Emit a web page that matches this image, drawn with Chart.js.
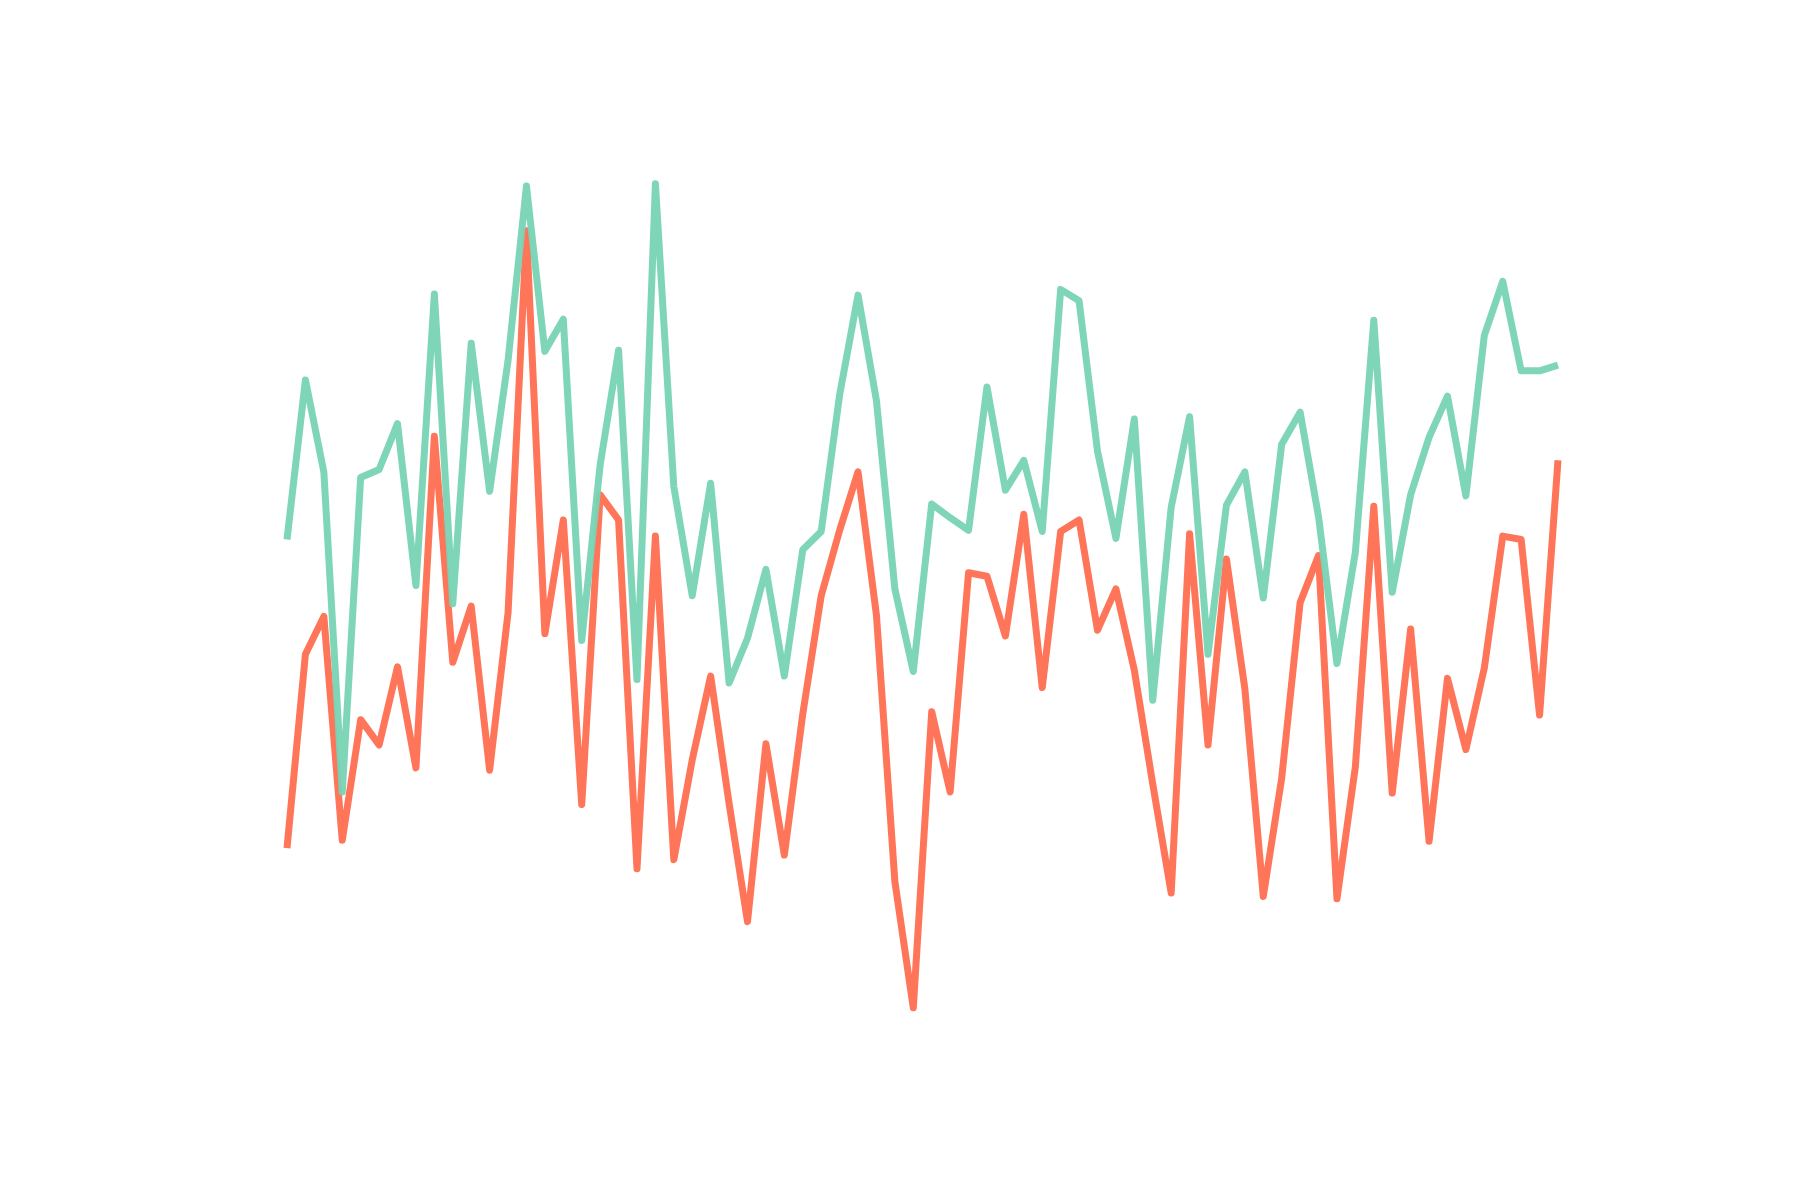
<!DOCTYPE html>
<html>
<head>
<meta charset="utf-8">
<script src="https://cdn.jsdelivr.net/npm/chart.js@4"></script>
<style>
  body { margin: 0; background: #fff; }
</style>
</head>
<body>
<canvas id="line-chart" width="1800" height="1200"></canvas>
<script>
const ctx = document.getElementById('line-chart')

// 70 steps, no tick labels shown in the picture
const labels = Array.from({ length: 70 }, (_, i) => i)

const greenValues = [
  41.0, 54.9, 46.9, 19.0, 46.4, 47.1, 51.1, 37.0, 62.4, 35.4,
  58.1, 45.2, 56.6, 71.8, 57.4, 60.2, 32.2, 47.5, 57.5, 28.8,
  72.0, 45.6, 36.1, 45.9, 28.5, 32.4, 38.4, 29.1, 40.1, 41.7,
  53.6, 62.3, 53.1, 36.7, 29.5, 44.1, 42.9, 41.8, 54.3, 45.3,
  47.9, 41.7, 62.8, 61.8, 48.7, 41.1, 51.5, 27.0, 43.8, 51.7,
  31.0, 44.0, 46.9, 35.9, 49.3, 52.1, 43.0, 30.2, 39.9, 60.1,
  36.4, 44.9, 49.9, 53.5, 44.8, 58.8, 63.5, 55.7, 55.7, 56.2
]

const redValues = [
  14.1, 31.0, 34.3, 14.8, 25.3, 23.1, 29.9, 21.1, 50.0, 30.3,
  35.2, 20.9, 34.6, 67.9, 32.8, 42.7, 17.9, 44.9, 42.7, 12.3,
  41.3, 13.1, 21.8, 29.1, 18.0, 7.7, 23.2, 13.5, 25.8, 36.1,
  41.8, 46.9, 34.4, 11.2, 0.2, 26.0, 19.0, 38.1, 37.8, 32.6,
  43.2, 28.1, 41.7, 42.7, 33.1, 36.7, 29.6, 19.7, 10.2, 41.5,
  23.1, 39.3, 28.0, 9.9, 20.2, 35.5, 39.6, 9.7, 21.2, 43.9,
  18.9, 33.2, 14.7, 28.9, 22.7, 29.8, 41.3, 41.0, 25.7, 47.9
]

const lineStyle = {
  borderWidth: 7,
  pointRadius: 0,
  tension: 0,
  borderJoinStyle: 'round',
  borderCapStyle: 'butt',
  clip: false
}

// green sits on top of red where they cross
new Chart(ctx, {
  type: 'line',
  data: {
    labels,
    datasets: [
      { ...lineStyle, label: 'green', data: greenValues, borderColor: 'rgba(120, 211, 180, 0.95)', order: 1 },
      { ...lineStyle, label: 'red', data: redValues, borderColor: '#ff7559', order: 2 }
    ]
  },
  options: {
    responsive: false,
    animation: false,
    layout: {
      padding: { left: 287, right: 242, top: 92, bottom: 190 }
    },
    scales: {
      x: { display: false, offset: false },
      y: { display: false, min: 0, max: 80 }
    },
    plugins: {
      legend: { display: false },
      tooltip: { enabled: false }
    }
  }
})
</script>
</body>
</html>
